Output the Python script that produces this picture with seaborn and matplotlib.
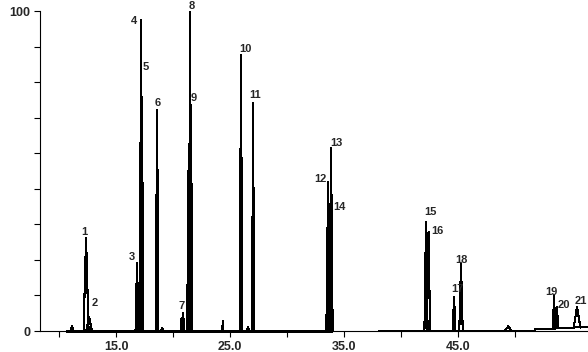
import numpy as np
import pandas as pd
import seaborn as sns
import matplotlib.pyplot as plt

# labelled peaks: retention time (min), apex height (%), half base width (min)
peak_labels = [str(i) for i in range(1, 22)]
peak_time = [12.37, 12.63, 16.84, 17.19, 17.28, 18.60, 20.88, 21.49, 21.58, 25.96, 27.02,
             33.60, 33.86, 33.74, 42.19, 42.41, 44.65, 45.26, 53.42, 53.68, 55.44]
peak_height = [29.1, 4.4, 21.3, 97.2, 73.1, 69.1, 5.6, 99.7, 70.6, 86.3, 71.3,
               46.6, 57.2, 37.2, 34.1, 30.9, 10.6, 20.9, 11.2, 7.5, 7.5]
peak_width = [0.22, 0.25, 0.13, 0.1, 0.1, 0.12, 0.1, 0.1, 0.1, 0.11, 0.09,
              0.15, 0.14, 0.15, 0.14, 0.14, 0.12, 0.15, 0.1, 0.1, 0.3]
peak_base = [0, 0, 0, 0, 0, 0, 0, 0, 0, 0, 0,
             0, 0, 0, 0, 0, 0, 0, 0.6, 0.9, 1.0]

# small unlabelled peaks
minor_time = [11.14, 19.05, 20.75, 21.33, 24.36, 26.58, 49.41]
minor_height = [1.5, 1.0, 4.0, 50.0, 3.0, 1.2, 1.5]
minor_width = [0.12, 0.12, 0.08, 0.08, 0.04, 0.1, 0.3]

# baseline pieces of the trace (gap between them)
base1_t = [10.6, 33.95]
base1_y = [0, 0]
base2_t = [38.07, 51.7, 51.8, 53.3, 53.4, 55.1, 55.2, 56.4]
base2_y = [0, 0, 0.6, 0.6, 0.9, 0.9, 1.3, 1.3]

# label offsets from apex, pixels
label_dx = [-2, 6, -5, -7, 4, 1, -1, 2, 3, 4, 2, -8, 5, 10, 4, 9, 3, 0, -3, 7, 4]
label_dy = [6, 14, 6, -1, 30, 7, 7, 6, 7, 6, 8, 3, 5, 5, 10, 1, 8, 4, 3, 2, 6]

rows = []
for i, (t, h, w, b) in enumerate(zip(peak_time, peak_height, peak_width, peak_base)):
    rows += [(f'p{i}', t - w, b), (f'p{i}', t, h), (f'p{i}', t + w, b)]
for i, (t, h, w) in enumerate(zip(minor_time, minor_height, minor_width)):
    rows += [(f'm{i}', t - w, 0), (f'm{i}', t, h), (f'm{i}', t + w, 0)]
for t, y in zip(base1_t, base1_y):
    rows.append(('b1', t, y))
for t, y in zip(base2_t, base2_y):
    rows.append(('b2', t, y))
df = pd.DataFrame(rows, columns=['unit', 'time', 'abund'])

sns.set_style('ticks')
plt.rcParams['font.family'] = ['Liberation Sans', 'DejaVu Sans']
plt.rcParams['font.weight'] = 'bold'

fig = plt.figure(figsize=(5.88, 3.52), dpi=100)
ax = fig.add_axes([40 / 588, 21 / 352, 548 / 588, 320 / 352])

sns.lineplot(data=df, x='time', y='abund', units='unit', estimator=None, sort=False,
             color='black', linewidth=0.8, legend=False, ax=ax,
             antialiased=False, clip_on=False)

for lab, t, h, dx, dy in zip(peak_labels, peak_time, peak_height, label_dx, label_dy):
    ax.annotate(lab, (t, h), xytext=(dx, dy), textcoords='offset pixels',
                ha='center', va='center', fontsize=8, fontweight='bold',
                annotation_clip=False)

ax.set_xlim(8.33, 56.4)
ax.set_ylim(0, 100)

yt = np.linspace(0, 100, 10)
ax.set_yticks(yt)
ax.set_yticklabels(['0'] + [''] * 8 + ['100'])
xt = np.arange(10, 51, 5)
ax.set_xticks(xt)
ax.set_xticklabels(['', '15.0', '', '25.0', '', '35.0', '', '45.0', ''])
ax.tick_params(length=4, width=0.8, color='black', labelsize=9, pad=3)
for lbl in ax.get_xticklabels() + ax.get_yticklabels():
    lbl.set_fontweight('bold')
ax.set_xlabel('')
ax.set_ylabel('')
for s in ['left', 'bottom']:
    ax.spines[s].set_linewidth(0.8)
    ax.spines[s].set_color('black')
sns.despine(ax=ax)

fig.savefig('out.png', dpi=100)
